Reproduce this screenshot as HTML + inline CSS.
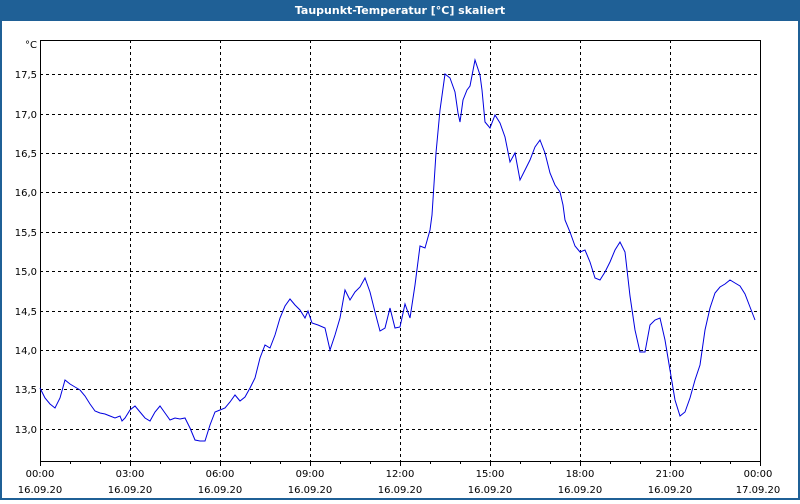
<!DOCTYPE html>
<html><head><meta charset="utf-8"><style>
body{margin:0;width:800px;height:500px;overflow:hidden;background:#fff;font-family:Tahoma,"DejaVu Sans","Liberation Sans",sans-serif;}
</style></head><body>
<svg width="800" height="500" xmlns="http://www.w3.org/2000/svg" font-family="'DejaVu Sans','Liberation Sans',sans-serif">
<rect x="0" y="0" width="800" height="500" fill="#1f6096"/>
<rect x="2" y="21" width="796" height="477" fill="#fff"/>
<text x="400" y="14" fill="#fff" font-size="11" font-weight="bold" text-anchor="middle">Taupunkt-Temperatur [°C] skaliert</text>
<g stroke="#000" stroke-width="1" stroke-dasharray="3,3" shape-rendering="crispEdges">
<line x1="40" x2="760" y1="74.5" y2="74.5"/><line x1="40" x2="760" y1="114.5" y2="114.5"/>
<line x1="40" x2="760" y1="153.5" y2="153.5"/><line x1="40" x2="760" y1="192.5" y2="192.5"/>
<line x1="40" x2="760" y1="232.5" y2="232.5"/><line x1="40" x2="760" y1="271.5" y2="271.5"/>
<line x1="40" x2="760" y1="311.5" y2="311.5"/><line x1="40" x2="760" y1="350.5" y2="350.5"/>
<line x1="40" x2="760" y1="389.5" y2="389.5"/><line x1="40" x2="760" y1="429.5" y2="429.5"/>
<line y1="40" y2="461" x1="130.5" x2="130.5"/><line y1="40" y2="461" x1="220.5" x2="220.5"/>
<line y1="40" y2="461" x1="310.5" x2="310.5"/><line y1="40" y2="461" x1="400.5" x2="400.5"/>
<line y1="40" y2="461" x1="490.5" x2="490.5"/><line y1="40" y2="461" x1="580.5" x2="580.5"/>
<line y1="40" y2="461" x1="670.5" x2="670.5"/>
</g>
<rect x="40.5" y="40.5" width="720" height="421" fill="none" stroke="#000" stroke-width="1" shape-rendering="crispEdges"/>
<g stroke="#000" shape-rendering="crispEdges">
<path d="M40.5 461v5M70.5 461v3M100.5 461v3M130.5 461v5M160.5 461v3M190.5 461v3M220.5 461v5M250.5 461v3M280.5 461v3M310.5 461v5M340.5 461v3M370.5 461v3M400.5 461v5M430.5 461v3M460.5 461v3M490.5 461v5M520.5 461v3M550.5 461v3M580.5 461v5M610.5 461v3M640.5 461v3M670.5 461v5M700.5 461v3M730.5 461v3M760.5 461v5"/>
</g>
<g font-size="10" fill="#000" text-anchor="end">
<text x="37" y="48">°C</text>
<text x="37" y="78">17,5</text><text x="37" y="118">17,0</text><text x="37" y="157">16,5</text>
<text x="37" y="196">16,0</text><text x="37" y="236">15,5</text><text x="37" y="275">15,0</text>
<text x="37" y="315">14,5</text><text x="37" y="354">14,0</text><text x="37" y="393">13,5</text>
<text x="37" y="433">13,0</text>
</g>
<g font-size="10" fill="#000" text-anchor="middle">
<text x="40" y="477">00:00</text><text x="40" y="493">16.09.20</text>
<text x="130" y="477">03:00</text><text x="130" y="493">16.09.20</text>
<text x="220" y="477">06:00</text><text x="220" y="493">16.09.20</text>
<text x="310" y="477">09:00</text><text x="310" y="493">16.09.20</text>
<text x="400" y="477">12:00</text><text x="400" y="493">16.09.20</text>
<text x="490" y="477">15:00</text><text x="490" y="493">16.09.20</text>
<text x="580" y="477">18:00</text><text x="580" y="493">16.09.20</text>
<text x="670" y="477">21:00</text><text x="670" y="493">16.09.20</text>
<text x="758" y="477">00:00</text><text x="758" y="493">17.09.20</text>
</g>
<polyline fill="none" stroke="#0000e0" stroke-width="1" points="40,388 45,398 50,404 55,408 60,398 65,380 70,384 75,387 80,390 85,396 90,404 95,411 100,413 105,414 110,416 115,418 120,416 122,421 125,418 130,410 135,406 140,412 145,418 150,421 155,412 160,406 165,413 170,420 175,418 180,419 185,418 190,428 195,440 200,441 205,441 210,425 215,412 220,410 225,408 230,402 235,395 240,401 245,397 250,388 255,378 260,358 265,345 270,348 275,335 280,318 285,306 290,299 295,305 300,310 305,318 308,311 312,323 318,325 325,328 330,350 335,335 340,318 345,290 350,300 355,292 360,287 365,278 370,292 375,312 380,331 385,328 390,308 395,328 400,327 405,304 410,318 415,285 420,246 425,248 430,230 432,215 436,153 440,110 445,74 450,78 455,92 458,113 460,122 463,100 467,90 470,86 475,60 480,75 482,90 485,122 490,128 495,115 500,123 505,137 510,162 515,153 520,180 525,170 530,160 535,147 540,140 545,153 550,173 555,185 560,192 563,205 565,220 570,232 575,246 580,252 585,250 590,262 595,278 600,280 605,272 610,262 615,250 620,242 625,252 630,296 635,330 640,352 645,352 650,325 655,320 660,318 665,340 670,370 675,400 680,416 685,412 690,398 695,380 700,365 705,330 710,308 715,293 720,287 725,284 730,280 735,283 740,286 745,294 750,307 755,320"/>
</svg>
</body></html>
